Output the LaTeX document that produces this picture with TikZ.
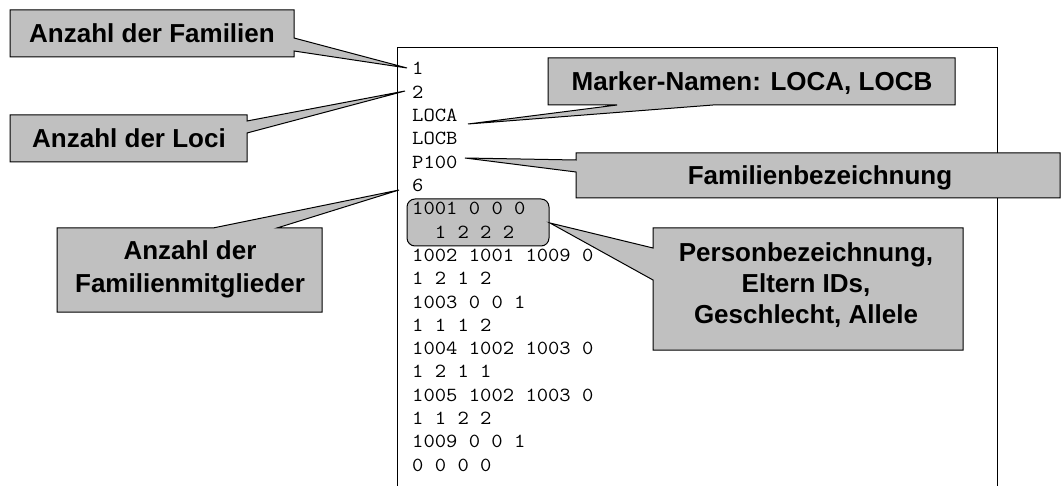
\documentclass[tikz,border=0pt]{standalone}
\usepackage{fontspec}
\newfontfamily\labfont{Liberation Sans}
\definecolor{callgray}{RGB}{192,192,192}
\newcommand\codeline[1]{\scalebox{1.1}[1]{#1}}
\begin{document}
\begin{tikzpicture}[x=1pt,y=-1pt,
  callout/.style={fill=callgray,draw=black,line width=1pt,line join=miter},
  lab/.style={font=\labfont\bfseries\fontsize{26}{33}\selectfont,inner sep=0pt,align=center},
  code/.style={font=\ttfamily\fontsize{20}{20}\selectfont,inner sep=0pt,anchor=base west}]
\useasboundingbox (0,0) rectangle (1062,486);
% frame
\draw[line width=1pt] (397,486) -- (397,48) -- (997,48) -- (997,486);
% highlighted record
\draw[callout,rounded corners=8pt] (407,199) rectangle (549,246);
% tips
\coordinate (tipfam) at (407,68);
\coordinate (tiploci) at (405,91);
\coordinate (tipmit) at (399,190);
\coordinate (tipmark) at (468,124);
\coordinate (tipfb) at (465,158);
\coordinate (tippers) at (550,223);
% callouts
\draw[callout] (10,10) -- (294,10) -- (294,38) -- (tipfam) -- (294,51) -- (294,57) -- (10,57) -- cycle;
\draw[callout] (10,115) -- (247,115) -- (247,121) -- (tiploci) -- (247,133) -- (247,162) -- (10,162) -- cycle;
\draw[callout] (57,228) -- (213,228) -- (tipmit) -- (277,228) -- (322,228) -- (322,312) -- (57,312) -- cycle;
\draw[callout] (548,58) -- (955,58) -- (955,105) -- (713,105) -- (tipmark) -- (617,105) -- (548,105) -- cycle;
\draw[callout] (576,153) -- (1060,153) -- (1060,198) -- (576,198) -- (576,172) -- (tipfb) -- (576,160) -- cycle;
\draw[callout] (653,228) -- (963,228) -- (963,350) -- (653,350) -- (653,280) -- (tippers) -- (653,248) -- cycle;
% labels
\node[lab,anchor=base] (famtxt) at (152,43) {Anzahl der Familien};
\node[lab,anchor=base] (locitxt) at (129,148) {Anzahl der Loci};
\node[lab] (mittxt) at (190,269) {Anzahl der\\Familienmitglieder};
\node[lab,anchor=base] (marktxt) at (752,91) {Marker-Namen: LOCA, LOCB};
\node[lab,anchor=base] (fbtxt) at (820,185) {Familienbezeichnung};
\node[lab,font=\labfont\bfseries\fontsize{26}{31}\selectfont] (perstxt) at (806,285.5) {Personbezeichnung,\\Eltern IDs,\\Geschlecht, Allele};
% data lines
\foreach \t [count=\i] in {1,2,LOCA,LOCB,P100,6,1001 0 0 0,{\hphantom{00}1 2 2 2},1002 1001 1009 0,1 2 1 2,1003 0 0 1,1 1 1 2,1004 1002 1003 0,1 2 1 1,1005 1002 1003 0,1 1 2 2,1009 0 0 1,0 0 0 0}
  \node[code] (ln\i) at (412,{75+23.3*(\i-1)}) {\codeline{\t}};
\end{tikzpicture}
\end{document}
